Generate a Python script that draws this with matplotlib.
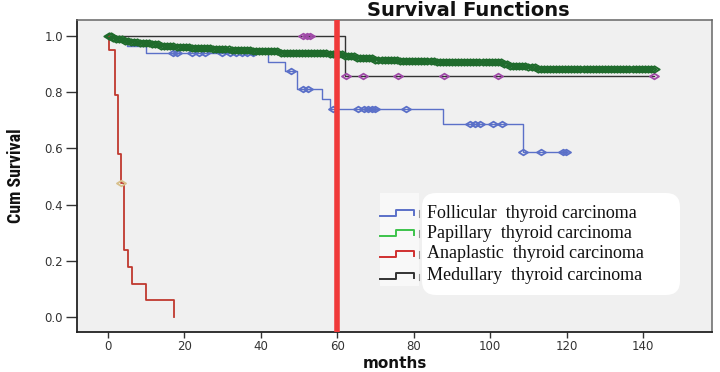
import matplotlib
matplotlib.use("Agg")
import matplotlib.pyplot as plt
from matplotlib.patches import FancyBboxPatch, Rectangle
from matplotlib.path import Path
from matplotlib import font_manager
import numpy as np

# ---- data ----
# follicular
fol_times = [2, 5, 10, 42, 46.3, 49.5, 56, 58, 87.7, 108.7]
fol_surv = [0.985, 0.965, 0.94, 0.908, 0.876, 0.81, 0.776, 0.74, 0.687, 0.587]
fol_censored = [17, 18, 22, 24, 25.4, 29.8, 32, 33.5, 35, 36.5, 38, 48, 51, 52.5,
                58.9, 65.5, 67, 68, 69, 70, 78, 94.8, 96, 97.4, 100.8, 103,
                108.7, 113.4, 119, 119.7]

# papillary
pap_times = [1, 2, 4, 6, 8, 11, 14, 18, 22, 27, 32, 38, 45, 52, 58, 62, 65, 70,
             76, 86, 103, 105, 110, 112]
pap_surv = [0.993, 0.988, 0.983, 0.978, 0.974, 0.970, 0.965, 0.961, 0.957, 0.953,
            0.949, 0.945, 0.941, 0.938, 0.934, 0.928, 0.921, 0.916, 0.912, 0.908,
            0.900, 0.894, 0.889, 0.883]
pap_censored = [0.3, 0.8, 1.5, 2.2, 3, 3.8, 4.5, 5.3, 6, 6.8, 7.6, 8.4, 9.2, 10,
                10.8, 11.6, 12.4, 13.2, 14, 14.8, 15.6, 16.4, 17.2, 18, 18.8, 19.6,
                20.4, 21.2, 22, 22.8, 23.6, 24.4, 25.2, 26, 26.8, 27.6, 28.4, 29.2,
                30, 30.8, 31.6, 32.4, 33.2, 34, 34.8, 35.6, 36.4, 37.2, 38, 38.8,
                39.6, 40.4, 41.2, 42, 42.8, 43.6, 44.4, 45.2, 46, 46.8, 47.6, 48.4,
                49.2, 50, 50.8, 51.6, 52.4, 53.2, 54, 54.8, 55.6, 56.4, 57.2, 58,
                58.8, 59.6, 60.4, 61.2, 62, 62.8, 63.6, 64.4, 65.2, 66, 66.8, 67.6,
                68.4, 69.2, 70, 70.8, 71.6, 72.4, 73.2, 74, 74.8, 75.6, 76.4, 77.2,
                78, 78.8, 79.6, 80.4, 81.2, 82, 82.8, 83.6, 84.4, 85.2, 86, 86.8,
                87.6, 88.4, 89.2, 90, 90.8, 91.6, 92.4, 93.2, 94, 94.8, 95.6, 96.4,
                97.2, 98, 98.8, 99.6, 100.4, 101.2, 102, 102.8, 103.6, 104.4, 105.2,
                106, 106.8, 107.6, 108.4, 109.2, 110, 110.8, 111.6, 112.4, 113.2,
                114, 114.8, 115.6, 116.4, 117.2, 118, 118.8, 119.6, 120.4, 121.2,
                122, 122.8, 123.6, 124.4, 125.2, 126, 126.8, 127.6, 128.4, 129.2,
                130, 130.8, 131.6, 132.4, 133.2, 134, 134.8, 135.6, 136.4, 137.2,
                138, 138.8, 139.6, 140.4, 141.2, 142, 142.8]

# anaplastic
ana_times = [0.3, 1.8, 2.6, 3.6, 4.2, 5.3, 6.3, 10.1, 17.3]
ana_surv = [0.95, 0.79, 0.58, 0.476, 0.238, 0.178, 0.119, 0.06, 0.0]
ana_censored = [3.6]

# medullary
med_times = [62]
med_surv = [0.857]
med_censored = [51, 52, 53, 62.3, 66.8, 76, 88, 102, 142.7]

cutoff_month = 60

legend_labels = ["Follicular  thyroid carcinoma", "Papillary  thyroid carcinoma",
                 "Anaplastic  thyroid carcinoma", "Medullary  thyroid carcinoma"]
legend_colors = ["#5b70c8", "#3cc34b", "#d03030", "#333333"]

x_ticks = [0, 20, 40, 60, 80, 100, 120, 140]
y_ticks = [0.0, 0.2, 0.4, 0.6, 0.8, 1.0]

# wide hollow diamond used by SPSS for censored cases
diamond = Path([(-1, 0), (0, 0.62), (1, 0), (0, -0.62), (-1, 0)],
               [Path.MOVETO, Path.LINETO, Path.LINETO, Path.LINETO, Path.CLOSEPOLY])


def km_xy(times, surv, censored):
    end = max([times[-1]] + list(censored))
    x = [0] + list(times) + [end]
    y = [1.0] + list(surv) + [surv[-1]]
    return np.array(x), np.array(y)


def surv_at(times, surv, t):
    full_t = np.array([0] + list(times))
    full_s = np.array([1.0] + list(surv))
    idx = np.searchsorted(full_t, t, side="right") - 1
    return full_s[idx]


# narrow font for the y label, if one is around
names = {f.name for f in font_manager.fontManager.ttflist}
narrow = None
for cand in ["Liberation Sans Narrow", "DejaVu Sans Condensed", "Roboto Condensed",
             "Open Sans Condensed"]:
    if cand in names:
        narrow = cand
        break

fig = plt.figure(figsize=(7.2, 3.72), dpi=100)
ax = fig.add_axes([0.107, 0.1075, 0.882, 0.839])
ax.set_facecolor("#f0f0f0")

curves = [
    (fol_times, fol_surv, fol_censored, "#5b70c8", "#5b70c8", 1.0, 6.5),
    (med_times, med_surv, med_censored, "#333333", "#a04aa8", 1.0, 6.5),
    (pap_times, pap_surv, pap_censored, "#1f6b2c", "#1f6b2c", 1.2, 7.5),
    (ana_times, ana_surv, ana_censored, "#c0392f", "#d8c08c", 1.3, 6.5),
]
for times, surv, cens, lc, mc, lw, ms in curves:
    x, y = km_xy(times, surv, cens)
    ax.step(x, y, where="post", color=lc, lw=lw, zorder=2)
    cy = [surv_at(times, surv, t) for t in cens]
    ax.plot(cens, cy, ls="none", marker=diamond, ms=ms, mfc="none",
            mec=mc, mew=1.3, zorder=3)

ax.axvline(cutoff_month, color="#f03a3a", lw=4, zorder=4)

ax.set_xlim(-8, 158)
ax.set_ylim(-0.053, 1.057)
ax.set_xticks(x_ticks)
ax.set_yticks(y_ticks)
ax.set_yticklabels([f"{v:.1f}" for v in y_ticks])
ax.tick_params(axis="x", length=4, width=1, pad=2, labelsize=8.5,
               labelcolor="#333333", color="#333333")
ax.tick_params(axis="y", length=8, width=1, pad=2, labelsize=8.5,
               labelcolor="#333333", color="#333333")
for side in ["left", "bottom"]:
    ax.spines[side].set_color("#222222")
    ax.spines[side].set_linewidth(1.3)
for side in ["top", "right"]:
    ax.spines[side].set_color("#666666")
    ax.spines[side].set_linewidth(1.1)

# titles / labels in pixel positions of the figure
fig.text(468 / 720, 1 - 10 / 372, "Survival Functions", ha="center", va="center",
         fontsize=14, fontweight="bold", color="#111111")
fig.text(395 / 720, 1 - 364 / 372, "months", ha="center", va="center",
         fontsize=11, fontweight="bold", color="#111111")
if narrow:
    fig.text(16 / 720, 1 - 176 / 372, "Cum Survival", ha="center", va="center",
             rotation=90, fontsize=13, fontweight="bold", color="#111111",
             family=[narrow, "DejaVu Sans"])
else:
    fig.text(16 / 720, 1 - 176 / 372, "Cum Survival", ha="center", va="center",
             rotation=90, fontsize=10.5, fontweight="bold", color="#111111",
             fontstretch="condensed")

# legend drawn by hand, SPSS style with step icons
tr = fig.dpi_scale_trans
H = 3.72
fig.patches.append(Rectangle((380 / 100, H - 286 / 100), 39 / 100, 93 / 100,
                             transform=tr, facecolor="#f8f8f8", edgecolor="none",
                             zorder=5))
fig.patches.append(FancyBboxPatch((422 / 100, H - 295 / 100), 258 / 100, 102 / 100,
                                  boxstyle="round,pad=0,rounding_size=0.14",
                                  transform=tr, facecolor="white",
                                  edgecolor="none", zorder=5))
row_y = [213, 233, 254, 276]
for label, color, yy in zip(legend_labels, legend_colors, row_y):
    lo = H - (yy + 3) / 100
    hi = H - (yy - 3) / 100
    xs = np.array([380, 396, 396, 414, 414]) / 100
    ys = [lo, lo, hi, hi, lo + 0.01]
    fig.add_artist(plt.Line2D(xs, ys, transform=tr, color=color, lw=1.4, zorder=6))
    fig.add_artist(plt.Line2D([419 / 100, 419 / 100], [lo - 0.01, hi - 0.005],
                              transform=tr, color="#999999", lw=0.8, zorder=6))
    fig.text(427 / 720, 1 - yy / 372, label, ha="left", va="center", fontsize=13,
             family=["Liberation Serif", "DejaVu Serif"], color="#111111", zorder=7)

fig.savefig("out.png", dpi=100)
